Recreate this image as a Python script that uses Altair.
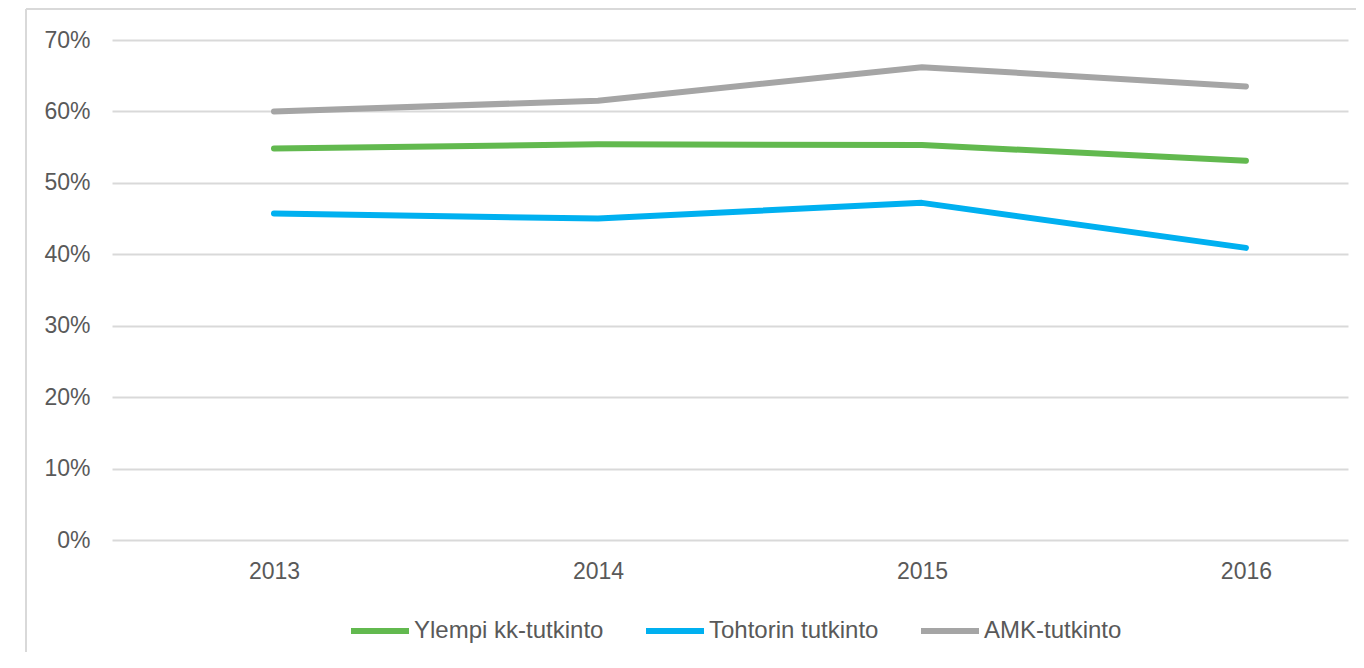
import altair as alt
import pandas as pd

years = [2013, 2014, 2015, 2016]
series = ["Ylempi kk-tutkinto", "Tohtorin tutkinto", "AMK-tutkinto"]
ylempi = [0.548, 0.554, 0.553, 0.531]
tohtori = [0.457, 0.450, 0.472, 0.409]
amk = [0.600, 0.615, 0.662, 0.635]
colors = ["#62b94f", "#00b0f0", "#a5a5a5"]
y_ticks = [0, 0.1, 0.2, 0.3, 0.4, 0.5, 0.6, 0.7]

rows = []
for name, vals in zip(series, [ylempi, tohtori, amk]):
    for yr, v in zip(years, vals):
        rows.append({"year": yr, "value": v, "series": name})
df = pd.DataFrame(rows)

FONT = "Liberation Sans"
TXT = "#595959"

lines = alt.Chart(df).mark_line(strokeWidth=6, strokeCap="round", strokeJoin="round").encode(
    x=alt.X("year:Q", scale=alt.Scale(domain=[2012.5, 2016.315], nice=False, zero=False),
            axis=alt.Axis(values=years, format="d", grid=False, ticks=False, domain=False,
                          title=None, labelFontSize=23, labelColor=TXT, labelFont=FONT,
                          labelPadding=20)),
    y=alt.Y("value:Q", scale=alt.Scale(domain=[0, 0.7], nice=False),
            axis=alt.Axis(values=y_ticks, format=".0%", grid=True, gridColor="#d9d9d9",
                          gridWidth=2, ticks=False, domain=False, title=None,
                          labelFontSize=23, labelColor=TXT, labelFont=FONT, labelPadding=22)),
    color=alt.Color("series:N", scale=alt.Scale(domain=series, range=colors),
                    legend=alt.Legend(title=None, orient="none", direction="horizontal",
                                      legendX=236, legendY=559, symbolType="stroke",
                                      symbolStrokeWidth=6, symbolSize=3364,
                                      labelFontSize=24, labelColor=TXT, labelFont=FONT,
                                      labelOffset=2, columnPadding=30, labelLimit=400)),
    order="year:Q",
)

frame_df = pd.DataFrame({"k": [0]})
frame_left = alt.Chart(frame_df).mark_rule(color="#d9d9d9", strokeWidth=2).encode(
    x=alt.value(-86), y=alt.value(-31), y2=alt.value(700))
frame_top = alt.Chart(frame_df).mark_rule(color="#d9d9d9", strokeWidth=2).encode(
    x=alt.value(-86), x2=alt.value(1300), y=alt.value(-31))

chart = alt.layer(frame_left, frame_top, lines).properties(
    width=1236, height=500,
    autosize=alt.AutoSizeParams(type="none"),
    padding={"left": 104, "top": 32, "right": 8, "bottom": 112},
).configure_view(stroke=None)

chart.save("out.html", embed_options={"renderer": "svg", "actions": False})
